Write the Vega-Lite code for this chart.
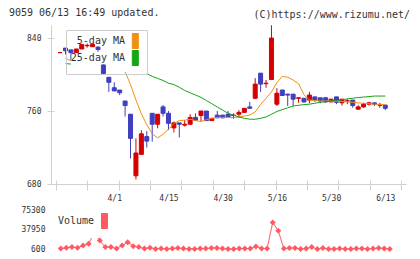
{
  "$schema": "https://vega.github.io/schema/vega-lite/v6.json",
  "background": "white",
  "padding": {"left": 8, "top": 7, "right": 5, "bottom": 2},
  "bounds": "flush",
  "spacing": 26,
  "title": {"text": "9059 06/13 16:49 updated.", "anchor": "start", "frame": "bounds", "offset": 0, "dx": -12, "dy": 16, "baseline": "alphabetic", "font": "DejaVu Sans Mono", "fontSize": 10, "fontWeight": "normal", "color": "#333333"},
  "config": {"view": {"stroke": null}},
  "resolve": {"scale": {"color": "independent"}},
  "data": {"values": [
    {"i":0,"d":"3/15","o":824,"h":824,"l":824,"c":824,"5-day MA":null,"25-day MA":null,"v":null},
    {"i":1,"d":"3/18","o":829,"h":829,"l":822,"c":826,"5-day MA":818,"25-day MA":812,"v":1400},
    {"i":2,"d":"3/19","o":827,"h":827,"l":816,"c":824,"5-day MA":815,"25-day MA":811.5,"v":3000},
    {"i":3,"d":"3/21","o":824,"h":828,"l":824,"c":828,"5-day MA":null,"25-day MA":null,"v":4200},
    {"i":4,"d":"3/22","o":828,"h":833,"l":828,"c":833,"5-day MA":null,"25-day MA":null,"v":3000},
    {"i":5,"d":"3/25","o":831.5,"h":834,"l":829.5,"c":832,"5-day MA":null,"25-day MA":null,"v":7400},
    {"i":6,"d":"3/26","o":830.5,"h":833,"l":830.5,"c":833,"5-day MA":null,"25-day MA":null,"v":10500},
    {"i":7,"d":"3/27","o":830,"h":831,"l":825,"c":827.5,"5-day MA":null,"25-day MA":null,"v":31500},
    {"i":8,"d":"3/28","o":810.5,"h":811,"l":800.5,"c":801,"5-day MA":null,"25-day MA":null,"v":16800},
    {"i":9,"d":"3/29","o":797,"h":797,"l":781,"c":791.5,"5-day MA":null,"25-day MA":null,"v":4200},
    {"i":10,"d":"4/1","o":785.5,"h":791.5,"l":782,"c":782,"5-day MA":null,"25-day MA":null,"v":4200},
    {"i":11,"d":"4/2","o":783,"h":783,"l":777.5,"c":780,"5-day MA":null,"25-day MA":null,"v":1400},
    {"i":12,"d":"4/3","o":771,"h":771,"l":754,"c":766,"5-day MA":803,"25-day MA":null,"v":7400},
    {"i":13,"d":"4/4","o":756.5,"h":756.5,"l":708,"c":730,"5-day MA":789,"25-day MA":null,"v":13500},
    {"i":14,"d":"4/5","o":689,"h":730,"l":685,"c":714,"5-day MA":772,"25-day MA":null,"v":6000},
    {"i":15,"d":"4/8","o":712.5,"h":739,"l":712,"c":735,"5-day MA":757,"25-day MA":null,"v":4200},
    {"i":16,"d":"4/9","o":732,"h":738,"l":720,"c":727,"5-day MA":745,"25-day MA":801,"v":1400},
    {"i":17,"d":"4/10","o":757.5,"h":757.5,"l":726.5,"c":745.5,"5-day MA":735,"25-day MA":798,"v":3000},
    {"i":18,"d":"4/11","o":745.5,"h":756.5,"l":741,"c":756.5,"5-day MA":730.5,"25-day MA":795.8,"v":800},
    {"i":19,"d":"4/12","o":764.5,"h":766.5,"l":754,"c":757.5,"5-day MA":734.5,"25-day MA":793.5,"v":1400},
    {"i":20,"d":"4/15","o":757.5,"h":760,"l":739,"c":746.5,"5-day MA":740,"25-day MA":790.5,"v":800},
    {"i":21,"d":"4/16","o":741.5,"h":748.5,"l":736.5,"c":747,"5-day MA":746.5,"25-day MA":789,"v":1400},
    {"i":22,"d":"4/17","o":747,"h":747,"l":731,"c":745.5,"5-day MA":749.5,"25-day MA":786,"v":2500},
    {"i":23,"d":"4/18","o":744.5,"h":750,"l":743,"c":745.5,"5-day MA":750,"25-day MA":782.5,"v":1400},
    {"i":24,"d":"4/19","o":745.5,"h":756.5,"l":745,"c":753,"5-day MA":751,"25-day MA":780,"v":800},
    {"i":25,"d":"4/22","o":753,"h":757.5,"l":749,"c":750,"5-day MA":749.5,"25-day MA":777.5,"v":600},
    {"i":26,"d":"4/23","o":755,"h":760,"l":749,"c":760,"5-day MA":748.5,"25-day MA":775,"v":1400},
    {"i":27,"d":"4/24","o":760,"h":760,"l":749.5,"c":749.5,"5-day MA":750.5,"25-day MA":771.5,"v":1400},
    {"i":28,"d":"4/25","o":749.5,"h":752.5,"l":749,"c":752,"5-day MA":752,"25-day MA":768,"v":2500},
    {"i":29,"d":"4/26","o":755.5,"h":760,"l":752.5,"c":752.5,"5-day MA":753,"25-day MA":764.5,"v":2500},
    {"i":30,"d":"4/30","o":755.5,"h":755.5,"l":752.5,"c":752.5,"5-day MA":753,"25-day MA":761,"v":1400},
    {"i":31,"d":"5/1","o":756.5,"h":760,"l":753.5,"c":753.5,"5-day MA":753,"25-day MA":757.5,"v":600},
    {"i":32,"d":"5/2","o":755,"h":757.5,"l":751.5,"c":755.5,"5-day MA":752.7,"25-day MA":755.5,"v":600},
    {"i":33,"d":"5/7","o":756.5,"h":761,"l":752.5,"c":758.5,"5-day MA":753.5,"25-day MA":753.5,"v":1400},
    {"i":34,"d":"5/8","o":758.5,"h":763,"l":758.5,"c":763,"5-day MA":754.5,"25-day MA":752,"v":1400},
    {"i":35,"d":"5/9","o":764.5,"h":770,"l":763,"c":763,"5-day MA":755.6,"25-day MA":751,"v":1400},
    {"i":36,"d":"5/10","o":774,"h":796,"l":773,"c":789.5,"5-day MA":759,"25-day MA":751,"v":5500},
    {"i":37,"d":"5/13","o":801.5,"h":801.5,"l":781,"c":789.5,"5-day MA":767,"25-day MA":752,"v":1400},
    {"i":38,"d":"5/14","o":790,"h":794,"l":785.5,"c":790.5,"5-day MA":774,"25-day MA":753.5,"v":1400},
    {"i":39,"d":"5/15","o":794.5,"h":854,"l":794,"c":840,"5-day MA":781,"25-day MA":756.5,"v":51500},
    {"i":40,"d":"5/16","o":767.5,"h":785,"l":765.5,"c":779.5,"5-day MA":791,"25-day MA":759.5,"v":35500},
    {"i":41,"d":"5/17","o":783,"h":783,"l":776.5,"c":777,"5-day MA":798,"25-day MA":761.5,"v":1400},
    {"i":42,"d":"5/20","o":778.5,"h":779,"l":765.5,"c":777.5,"5-day MA":797,"25-day MA":763.5,"v":2500},
    {"i":43,"d":"5/21","o":778.5,"h":778.5,"l":765.5,"c":773,"5-day MA":794,"25-day MA":765.5,"v":2500},
    {"i":44,"d":"5/22","o":774,"h":775,"l":769,"c":774.5,"5-day MA":790,"25-day MA":766.3,"v":600},
    {"i":45,"d":"5/23","o":774,"h":774,"l":769,"c":770,"5-day MA":778,"25-day MA":767,"v":1400},
    {"i":46,"d":"5/24","o":772,"h":781,"l":768.5,"c":777.5,"5-day MA":772,"25-day MA":767.5,"v":4200},
    {"i":47,"d":"5/27","o":775.5,"h":775.5,"l":770,"c":772,"5-day MA":771.5,"25-day MA":768.5,"v":600},
    {"i":48,"d":"5/28","o":774.5,"h":774.5,"l":768.5,"c":771,"5-day MA":771,"25-day MA":769.5,"v":2500},
    {"i":49,"d":"5/29","o":774.5,"h":775.5,"l":769,"c":770,"5-day MA":771,"25-day MA":770.3,"v":600},
    {"i":50,"d":"5/30","o":770,"h":773,"l":770,"c":773,"5-day MA":771,"25-day MA":771,"v":800},
    {"i":51,"d":"5/31","o":775.5,"h":775.5,"l":767.5,"c":769.5,"5-day MA":770.5,"25-day MA":771.3,"v":1400},
    {"i":52,"d":"6/3","o":769,"h":773,"l":766,"c":773,"5-day MA":770.5,"25-day MA":772.3,"v":800},
    {"i":53,"d":"6/4","o":771,"h":773,"l":767.5,"c":771.2,"5-day MA":770,"25-day MA":773.3,"v":800},
    {"i":54,"d":"6/5","o":772,"h":772,"l":763.5,"c":766,"5-day MA":769.5,"25-day MA":774,"v":1400},
    {"i":55,"d":"6/6","o":762,"h":766.5,"l":762,"c":764.5,"5-day MA":769,"25-day MA":774.8,"v":1400},
    {"i":56,"d":"6/7","o":764.5,"h":769,"l":763.5,"c":767.5,"5-day MA":768.5,"25-day MA":775.3,"v":800},
    {"i":57,"d":"6/10","o":767.5,"h":770,"l":766,"c":769,"5-day MA":768,"25-day MA":775.8,"v":1400},
    {"i":58,"d":"6/11","o":769,"h":769,"l":765.5,"c":767.5,"5-day MA":767.5,"25-day MA":776.4,"v":2500},
    {"i":59,"d":"6/12","o":766.4,"h":769,"l":763.5,"c":766.6,"5-day MA":767.3,"25-day MA":776.4,"v":1400},
    {"i":60,"d":"6/13","o":766.5,"h":766.5,"l":761,"c":763,"5-day MA":767,"25-day MA":776.4,"v":800}
  ]},
  "vconcat": [
    {
      "width": 355,
      "height": 159,
      "title": {"text": "(C)https://www.rizumu.net/", "anchor": "end", "frame": "group", "orient": "top", "offset": -3, "dx": 4, "baseline": "alphabetic", "font": "DejaVu Sans Mono", "fontSize": 10, "fontWeight": "normal", "color": "#333333"},
      "resolve": {"axis": {"x": "independent", "y": "independent"}},
      "layer": [
        {
          "mark": {"type": "rule", "strokeWidth": 1},
          "encoding": {
            "x": {"field": "i", "type": "quantitative", "scale": {"domain": [-0.75, 62.9], "nice": false, "zero": false},
              "axis": {"orient": "bottom", "values": [10, 20, 30, 40, 50, 60], "labelExpr": "['4/1','4/15','4/30','5/16','5/30','6/13'][round(datum.value/10)-1]", "ticks": false, "grid": false, "title": null, "domainColor": "#d0d0d0", "domainWidth": 1, "labelFont": "DejaVu Sans Mono", "labelFontSize": 8, "labelColor": "#333333", "labelPadding": 10, "labelOverlap": false, "labelFlush": false}},
            "y": {"field": "l", "type": "quantitative", "scale": {"domain": [680, 854.3], "nice": false, "zero": false},
              "axis": {"orient": "left", "values": [680, 760, 840], "ticks": false, "grid": false, "title": null, "domainColor": "#d0d0d0", "domainWidth": 1, "labelFont": "DejaVu Sans Mono", "labelFontSize": 8, "labelColor": "#333333", "labelPadding": 10}},
            "y2": {"field": "h"},
            "color": {"condition": {"test": "datum.c >= datum.o", "value": "#d40000"}, "value": "#3f3fbf"}
          }
        },
        {
          "mark": {"type": "bar", "size": 4, "strokeWidth": 1},
          "encoding": {
            "x": {"field": "i", "type": "quantitative",
              "axis": {"orient": "bottom", "values": [-0.75, 5.0364, 10.8227, 16.6091, 22.3955, 28.1818, 33.9682, 39.7545, 45.5409, 51.3273, 57.1136, 62.9], "labels": false, "domain": false, "grid": false, "title": null, "tickSize": 10, "offset": -4, "tickColor": "#d0d0d0", "tickWidth": 1}},
            "y": {"field": "o", "type": "quantitative",
              "axis": {"orient": "left", "values": [680, 760, 840], "labels": false, "domain": false, "grid": false, "title": null, "tickSize": 7, "offset": -3, "tickColor": "#d0d0d0", "tickWidth": 1}},
            "y2": {"field": "c"},
            "color": {"condition": {"test": "datum.c >= datum.o", "value": "#d40000"}, "value": "#3f3fbf"},
            "stroke": {"condition": {"test": "datum.c >= datum.o", "value": "#d40000"}, "value": "#3f3fbf"}
          }
        },
        {
          "transform": [{"fold": ["5-day MA", "25-day MA"], "as": ["s", "m"]}],
          "mark": {"type": "line", "strokeWidth": 1, "invalid": "break-paths-show-domains"},
          "encoding": {
            "x": {"field": "i", "type": "quantitative", "axis": null},
            "y": {"field": "m", "type": "quantitative", "axis": null},
            "color": {"field": "s", "type": "nominal",
              "scale": {"domain": ["5-day MA", "25-day MA"], "range": ["#f0900f", "#15a515"]},
              "legend": {"orient": "none", "legendX": 15, "legendY": 5, "title": null, "direction": "vertical",
                "padding": 6, "strokeColor": "#cccccc", "cornerRadius": 0, "rowPadding": -3,
                "symbolType": "M55.3,-7.5H61.3V7.5H55.3Z", "symbolSize": 4, "symbolStrokeWidth": 1,
                "labelAlign": "right", "labelOffset": 43, "labelFont": "DejaVu Sans Mono", "labelFontSize": 10, "labelColor": "#333333",
                "encoding": {"symbols": {
                  "fill": {"condition": {"test": "datum.value === '5-day MA'", "value": "#f0900f"}, "value": "#15a515"},
                  "stroke": {"value": "#333333"}, "strokeWidth": {"value": 1}, "opacity": {"value": 1}}}}}
          }
        }
      ]
    },
    {
      "width": 355,
      "height": 39,
      "encoding": {
        "x": {"field": "i", "type": "quantitative", "scale": {"domain": [-0.75, 62.9], "nice": false, "zero": false}, "axis": null},
        "y": {"field": "v", "type": "quantitative", "scale": {"domain": [600, 75300], "nice": false, "zero": false},
          "axis": {"values": [600, 37950, 75300], "format": "d", "domain": false, "ticks": false, "grid": false, "title": null, "labelFont": "DejaVu Sans Mono", "labelFontSize": 8, "labelColor": "#333333", "labelPadding": 6}},
        "color": {"datum": "Volume", "type": "nominal", "scale": {"range": ["#ff5a64"]},
          "legend": {"orient": "none", "legendX": 0, "legendY": -1, "title": null, "padding": 7, "fillColor": "white",
            "symbolType": "M38.5,-7.5H44.5V7.5H38.5Z", "symbolSize": 4, "labelOffset": -10,
            "labelFont": "DejaVu Sans Mono", "labelFontSize": 10, "labelColor": "#333333",
            "encoding": {"symbols": {"fill": {"value": "#ff6666"}, "stroke": {"value": "#333333"}, "strokeWidth": {"value": 1}, "opacity": {"value": 1}}}}}
      },
      "layer": [
        {"mark": {"type": "line", "strokeWidth": 1}},
        {"mark": {"type": "point", "shape": "diamond", "filled": true, "size": 36, "opacity": 1}}
      ]
    }
  ]
}
